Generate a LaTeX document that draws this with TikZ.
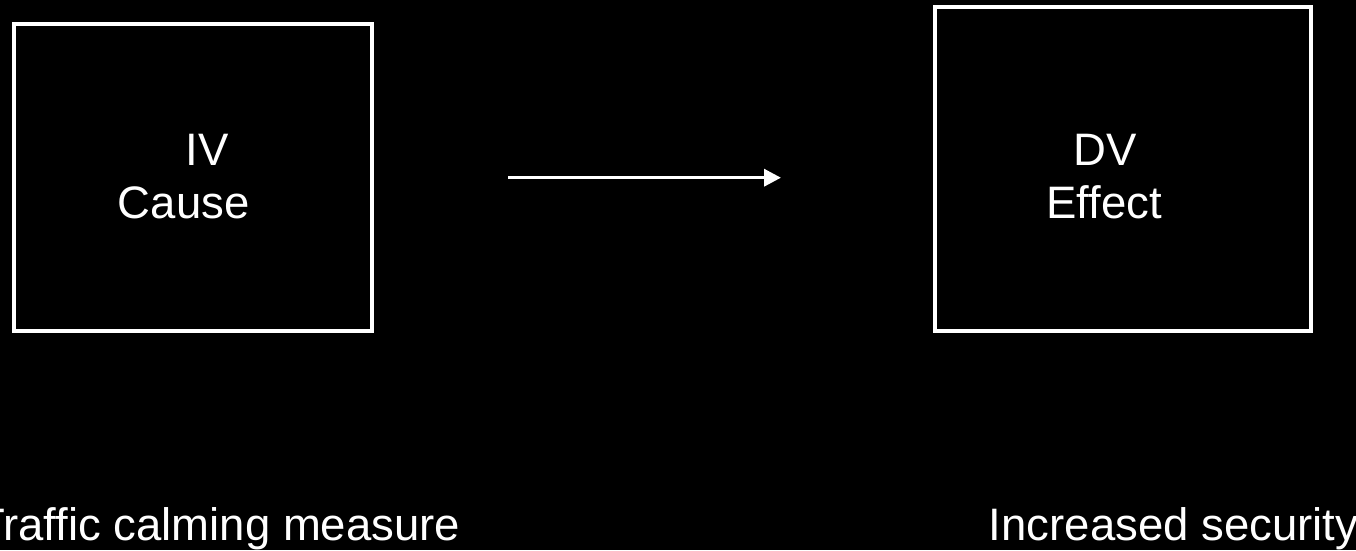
\documentclass[tikz,border=0pt]{standalone}
\usepackage{fontspec}
\setmainfont{Liberation Sans}
\usetikzlibrary{arrows.meta}
\begin{document}
\begin{tikzpicture}[x=1pt,y=-1pt,
  box/.style={draw=white,line width=4pt,rectangle,inner sep=0pt,fill=black},
  lbl/.style={text=white,inner sep=0pt,anchor=base west,font=\fontsize{45.5}{54}\selectfont},
  conn/.style={draw=white,line width=3.5pt,-{Triangle[length=17pt,width=17pt]}}]
\fill[black] (0,0) rectangle (1356,550);
\useasboundingbox (0,0) rectangle (1356,550);
\node[box,minimum width=357.7pt,minimum height=306.7pt] (iv) at (192.85,177.65) {};
\node[box,minimum width=375.2pt,minimum height=324pt] (dv) at (1122.9,169) {};
\node[lbl] (ivt) at (185.7,165) {IV};
\node[lbl] (cause) at (117.7,218) {Cause};
\node[lbl] (dvt) at (1073.4,165) {DV};
\node[lbl] (effect) at (1046.4,218) {Effect};
\coordinate (a1) at (508,177.7);
\coordinate (a2) at (781,177.7);
\draw[conn] (a1) -- (a2);
\node[lbl] (traffic) at (-23,540) {Traffic calming measure};
\node[lbl] (security) at (988.7,540) {Increased security};
\end{tikzpicture}
\end{document}
